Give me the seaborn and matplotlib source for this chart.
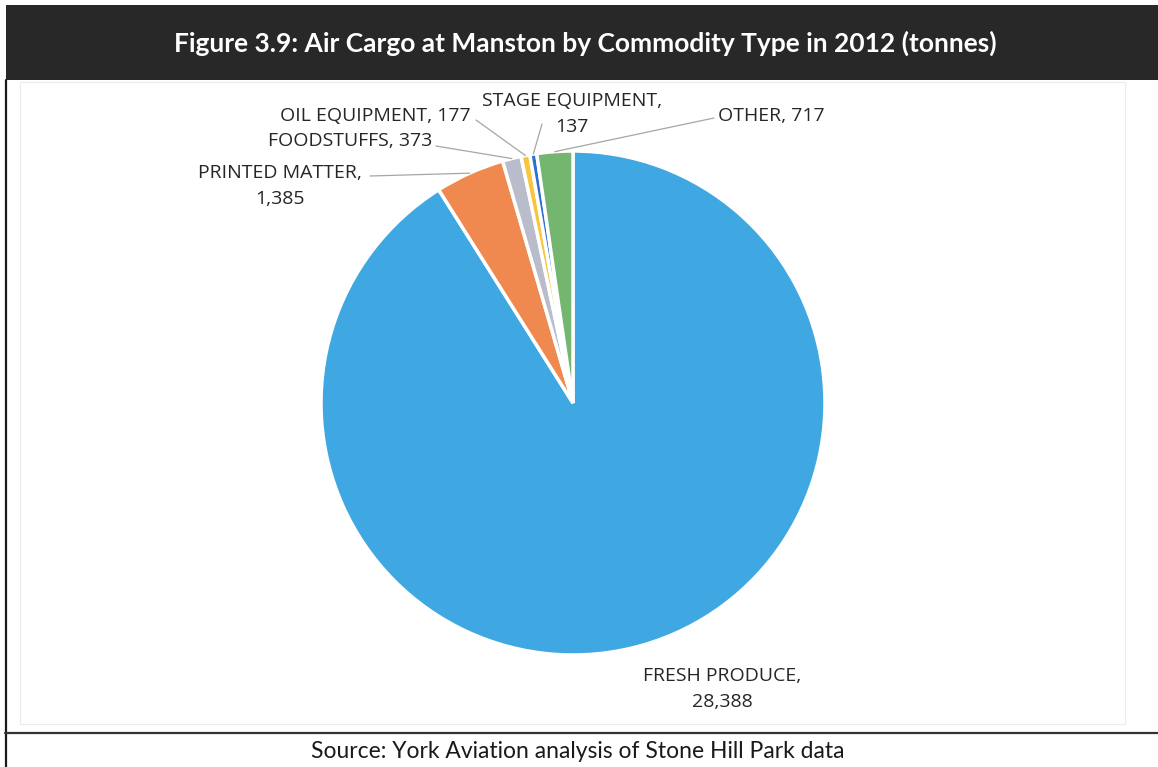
import matplotlib
matplotlib.use("Agg")
import matplotlib.pyplot as plt
from matplotlib.patches import Rectangle
from matplotlib.lines import Line2D
import numpy as np
import seaborn as sns

# Air cargo tonnage by commodity, Manston 2012
categories = ["FRESH PRODUCE", "PRINTED MATTER", "FOODSTUFFS",
              "OIL EQUIPMENT", "STAGE EQUIPMENT", "OTHER"]
tonnes = [28388, 1385, 373, 177, 137, 717]
colors = ["#3FA7E2", "#F0894F", "#B9BDCB", "#F7C53E", "#2F6FD0", "#74B66F"]

title = "Figure 3.9: Air Cargo at Manston by Commodity Type in 2012 (tonnes)"
source = "Source: York Aviation analysis of Stone Hill Park data"

sns.set_theme(style="white")
plt.rcParams["font.family"] = ["Open Sans", "DejaVu Sans"]

W, H = 1158, 767
fig = plt.figure(figsize=(W / 100, H / 100), dpi=100)
fig.patch.set_facecolor("white")


def fx(px):
    return px / W


def fy(py):
    return 1 - py / H


# dark title banner
fig.add_artist(Rectangle((fx(6), fy(80)), 1 - fx(6), fy(5) - fy(80),
                         transform=fig.transFigure, facecolor="#282828",
                         edgecolor="none", zorder=0))
fig.text(fx(585), fy(43), title, color="white", fontsize=19,
         fontweight="bold", ha="center", va="center", family=["Lato", "DejaVu Sans"])

# frame lines
fig.add_artist(Line2D([fx(5.5), fx(5.5)], [fy(80), 0], transform=fig.transFigure,
                      color="#1a1a1a", lw=1.6))
fig.add_artist(Line2D([fx(5), 1], [fy(733), fy(733)], transform=fig.transFigure,
                      color="#333333", lw=1.6))
# faint inner chart border
fig.add_artist(Rectangle((fx(20), fy(724)), fx(1125) - fx(20), fy(82) - fy(724),
                         transform=fig.transFigure, facecolor="none",
                         edgecolor="#ececec", lw=0.8))

fig.text(fx(578), fy(751), source, fontsize=16.5, color="#1a1a1a",
         ha="center", va="center", family=["Lato", "DejaVu Sans"])

# pie axes
cx, cy, r = 573, 403, 252
ax = fig.add_axes([fx(cx - r), fy(cy + r), (2 * r) / W, (2 * r) / H])

wedges, _ = ax.pie(tonnes, colors=colors, startangle=90, counterclock=False,
                   radius=1.0, wedgeprops=dict(edgecolor="white", linewidth=2.5))
ax.set_xlim(-1, 1)
ax.set_ylim(-1, 1)
ax.set_aspect("equal")
ax.axis("off")

# label placement (text position in pixels, alignment)
label_pos = {
    "FRESH PRODUCE": (722, 689, "center"),
    "PRINTED MATTER": (280, 186, "center"),
    "FOODSTUFFS": (432, 141, "right"),
    "OIL EQUIPMENT": (471, 116, "right"),
    "STAGE EQUIPMENT": (572, 114, "center"),
    "OTHER": (718, 116, "left"),
}
two_line = {"FRESH PRODUCE", "PRINTED MATTER", "STAGE EQUIPMENT"}
line_start = {
    "PRINTED MATTER": (370, 176),
    "FOODSTUFFS": (436, 146),
    "OIL EQUIPMENT": (476, 120),
    "STAGE EQUIPMENT": (542, 124),
    "OTHER": (714, 118),
}


def to_data(px, py):
    return (px - cx) / r, (cy - py) / r


total = sum(tonnes)
angles = []
acc = 0
for v in tonnes:
    mid = 90 - 360 * (acc + v / 2) / total
    angles.append(np.deg2rad(mid))
    acc += v

for name, v, ang in zip(categories, tonnes, angles):
    px, py, ha = label_pos[name]
    sep = "\n" if name in two_line else " "
    txt = f"{name},{sep}{v:,}"
    tx, ty = to_data(px, py)
    ax.text(tx, ty, txt, ha=ha, va="center", fontsize=14, color="#262626",
            linespacing=1.62, clip_on=False, family=["Open Sans", "DejaVu Sans"])
    if name in line_start:
        sx, sy = to_data(*line_start[name])
        ex, ey = 1.0 * np.cos(ang), 1.0 * np.sin(ang)
        ax.add_line(Line2D([sx, ex], [sy, ey], color="#a6a6a6", lw=0.9,
                           clip_on=False))

fig.savefig("out.png", dpi=100, facecolor="white")
